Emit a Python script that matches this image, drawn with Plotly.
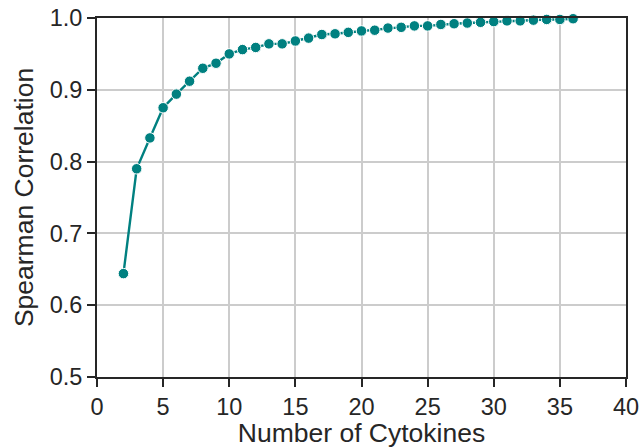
import plotly.graph_objects as go

n_cytokines = list(range(2, 37))
spearman = [0.644, 0.790, 0.833, 0.875, 0.894, 0.912, 0.930, 0.937, 0.950, 0.956,
            0.959, 0.964, 0.964, 0.968, 0.972, 0.977, 0.978, 0.980, 0.982, 0.983,
            0.986, 0.987, 0.989, 0.989, 0.991, 0.992, 0.993, 0.994, 0.995, 0.996,
            0.996, 0.997, 0.998, 0.998, 0.999]
x_ticks = [0, 5, 10, 15, 20, 25, 30, 35, 40]
y_ticks = [0.5, 0.6, 0.7, 0.8, 0.9, 1.0]
y_labels = ["0.5", "0.6", "0.7", "0.8", "0.9", "1.0"]

teal = "#008080"
font = "Liberation Sans, Arial, sans-serif"

fig = go.Figure()
fig.add_trace(go.Scatter(
    x=n_cytokines, y=spearman, mode="lines+markers",
    line=dict(color=teal, width=2.4),
    marker=dict(color=teal, size=10.5, line=dict(color="white", width=1)),
    cliponaxis=False, showlegend=False,
))

axis_common = dict(
    showline=True, linecolor="#262626", linewidth=1.8, mirror=True,
    ticks="outside", ticklen=8, tickwidth=1.5, tickcolor="#262626",
    showgrid=True, gridcolor="#cccccc", gridwidth=1.5,
    zeroline=False, automargin=False,
    tickfont=dict(family=font, size=23.5, color="#262626"),
)

fig.update_xaxes(
    range=[0, 40], tickvals=x_ticks, ticktext=[str(v) for v in x_ticks],
    title=dict(text="Number of Cytokines", font=dict(family=font, size=26.5, color="#262626"), standoff=6),
    **axis_common,
)
fig.update_yaxes(
    range=[0.5, 1.0], tickvals=y_ticks, ticktext=y_labels,
    title=dict(text="Spearman Correlation", font=dict(family=font, size=26.5, color="#262626"), standoff=8),
    **axis_common,
)

fig.update_layout(
    width=641, height=448,
    margin=dict(l=97, r=15, t=18, b=71, autoexpand=False),
    plot_bgcolor="white", paper_bgcolor="white",
    font=dict(family=font),
)

fig.write_html("out.html")
